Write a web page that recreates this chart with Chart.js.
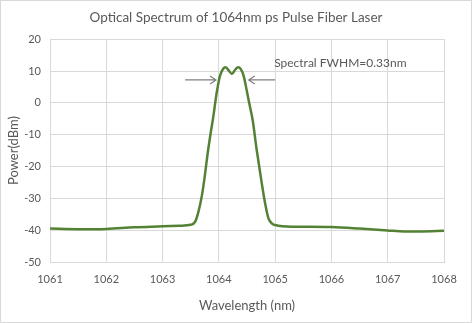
<!DOCTYPE html>
<html>
<head>
<meta charset="utf-8">
<script src="https://cdn.jsdelivr.net/npm/chart.js@4"></script>
<style>
  body { margin: 0; background: #fff; }
  #wrap { width: 472px; height: 323px; }
</style>
</head>
<body>
<div id="wrap"><canvas id="spectrum" width="472" height="323"></canvas></div>
<script>
// measured spectrum (nm / dBm)
const wavelength = [
  1061.0, 1061.5, 1062.0, 1062.5, 1063.0, 1063.3, 1063.5, 1063.58, 1063.64, 1063.7,
  1063.75, 1063.8, 1063.85, 1063.9, 1063.96, 1064.02, 1064.08, 1064.12, 1064.17, 1064.23,
  1064.29, 1064.34, 1064.39, 1064.44, 1064.5, 1064.55, 1064.6, 1064.67, 1064.76, 1064.82,
  1064.88, 1064.95, 1065.0, 1065.3, 1065.6, 1066.0, 1066.5, 1067.0, 1067.3, 1067.6, 1068.0
];
const power = [
  -39.5, -39.7, -39.6, -39.1, -38.8, -38.6, -38.3, -37.3, -34, -29,
  -23, -16, -10, -4.5, 3, 8.5, 10.8, 11.2, 10.3, 9.1,
  10.4, 11.2, 10.6, 8.5, 3.5, -1, -5.3, -14.5, -25, -31.4,
  -36.2, -38, -38.4, -38.9, -38.9, -39.0, -39.5, -40.1, -40.4, -40.4, -40.2
];

const xTicks = [1061, 1062, 1063, 1064, 1065, 1066, 1067, 1068];
const yTicks = [-50, -40, -30, -20, -10, 0, 10, 20];

// FWHM markers: arrows pointing at the half-max edges
const fwhmLabel = 'Spectral FWHM=0.33nm';
const leftArrow = [1063.4, 1063.95];
const rightArrow = [1065.0, 1064.53];
const arrowLevel = 7.2;
const labelPos = [1065.0, 12.6];

const gray = '#595959';
const fontFamily = 'Lato, "Liberation Sans", sans-serif';

const points = wavelength.map((w, i) => ({ x: w, y: power[i] }));

const fwhmMarks = {
  id: 'fwhmMarks',
  afterDatasetsDraw(chart) {
    const ctx = chart.ctx;
    const xs = chart.scales.x;
    const ys = chart.scales.y;
    const yy = ys.getPixelForValue(arrowLevel);

    function arrow(fromNm, toNm) {
      const x0 = xs.getPixelForValue(fromNm);
      const x1 = xs.getPixelForValue(toNm);
      const dir = x1 > x0 ? 1 : -1;
      ctx.beginPath();
      ctx.moveTo(x0, yy);
      ctx.lineTo(x1, yy);
      ctx.moveTo(x1 - dir * 6, yy - 4);
      ctx.lineTo(x1, yy);
      ctx.lineTo(x1 - dir * 6, yy + 4);
      ctx.stroke();
    }

    ctx.save();
    ctx.strokeStyle = '#7f7f7f';
    ctx.lineWidth = 1.2;
    arrow(leftArrow[0], leftArrow[1]);
    arrow(rightArrow[0], rightArrow[1]);

    ctx.fillStyle = gray;
    ctx.font = '12px ' + fontFamily;
    ctx.textBaseline = 'middle';
    ctx.textAlign = 'left';
    ctx.fillText(fwhmLabel, xs.getPixelForValue(labelPos[0]) - 1, ys.getPixelForValue(labelPos[1]));
    ctx.restore();
  },
  afterDraw(chart) {
    const ctx = chart.ctx;
    ctx.save();
    ctx.strokeStyle = '#d9d9d9';
    ctx.lineWidth = 1;
    ctx.strokeRect(0.5, 0.5, chart.width - 1, chart.height - 1);
    ctx.restore();
  }
};

new Chart(document.getElementById('spectrum'), {
  type: 'scatter',
  data: {
    datasets: [{
      data: points,
      showLine: true,
      borderColor: '#548235',
      borderWidth: 2.5,
      pointRadius: 0,
      cubicInterpolationMode: 'monotone'
    }]
  },
  options: {
    responsive: false,
    animation: false,
    layout: { padding: { left: 0, right: 0, top: 0, bottom: 9 } },
    plugins: {
      legend: { display: false },
      tooltip: { enabled: false },
      title: {
        display: true,
        text: 'Optical Spectrum of 1064nm ps Pulse Fiber Laser',
        color: gray,
        font: { family: fontFamily, size: 13.5, weight: 'normal' },
        padding: { top: 10, bottom: 13 }
      }
    },
    scales: {
      x: {
        type: 'linear',
        min: xTicks[0],
        max: xTicks[xTicks.length - 1],
        afterBuildTicks: s => { s.ticks = xTicks.map(v => ({ value: v })); },
        afterFit: s => { s.height = 52; },
        grid: { color: '#d9d9d9', drawTicks: false },
        border: { color: '#d9d9d9' },
        ticks: { color: gray, padding: 11, font: { family: fontFamily, size: 11 }, callback: v => String(v) },
        title: {
          display: true,
          text: 'Wavelength (nm)',
          color: gray,
          font: { family: fontFamily, size: 13 },
          padding: { top: 4, bottom: 0 }
        }
      },
      y: {
        min: yTicks[0],
        max: yTicks[yTicks.length - 1],
        afterBuildTicks: s => { s.ticks = yTicks.map(v => ({ value: v })); },
        afterFit: s => { s.width = 50; },
        grid: { color: '#d9d9d9', drawTicks: false },
        border: { color: '#d9d9d9' },
        ticks: { color: gray, padding: 9, font: { family: fontFamily, size: 11 }, callback: v => String(v) },
        title: {
          display: true,
          text: 'Power(dBm)',
          color: gray,
          font: { family: fontFamily, size: 13 },
          padding: { top: 6, bottom: 0 }
        }
      },
      // empty right-hand gutter so the plot stops short of the edge
      gutter: {
        type: 'linear',
        position: 'right',
        afterFit: s => { s.width = 28; },
        grid: { display: false },
        border: { display: false },
        ticks: { display: false },
        title: { display: false }
      }
    }
  },
  plugins: [fwhmMarks]
});
</script>
</body>
</html>
